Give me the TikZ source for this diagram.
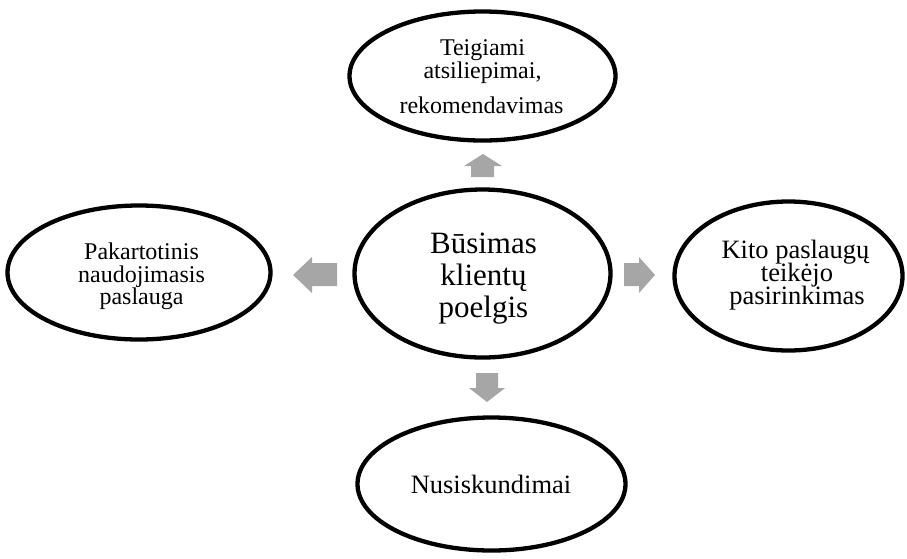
\documentclass[tikz,border=0pt]{standalone}
\usepackage{fontspec}
\setmainfont{Liberation Serif}
\usetikzlibrary{shapes.geometric}
\definecolor{arrowgray}{RGB}{166,166,166}
\begin{document}
\begin{tikzpicture}[x=1pt,y=-1pt,
  bubble/.style={draw=black, line width=4.3pt, ellipse, inner sep=0pt},
  lbl/.style={anchor=base, inner sep=0pt},
  fsmall/.style={font=\fontsize{24}{26}\selectfont},
  fmid/.style={font=\fontsize{26.5}{28}\selectfont},
  fbig/.style={font=\fontsize{31}{33}\selectfont},
  blockarrow/.style={fill=arrowgray, draw=none}]
\useasboundingbox (0,0) rectangle (907,558);

% ellipses
\node[bubble, minimum width=266pt, minimum height=129pt] (top) at (482.5,76) {};
\node[bubble, minimum width=256pt, minimum height=168pt] (ctr) at (482.5,273.5) {};
\node[bubble, minimum width=263pt, minimum height=134pt] (lft) at (139,272.5) {};
\node[bubble, minimum width=228pt, minimum height=149pt] (rgt) at (788.5,276) {};
\node[bubble, minimum width=268pt, minimum height=133pt] (bot) at (491.5,484) {};

% texts
\node[lbl, fsmall] (t1) at (482.5,55) {Teigiami};
\node[lbl, fsmall] (t2) at (482.5,78) {atsiliepimai,};
\node[lbl, fsmall] (t3) at (481.5,113) {rekomendavimas};

\node[lbl, fbig] (c1) at (483.5,253) {Būsimas};
\node[lbl, fbig] (c2) at (483.5,285) {klientų};
\node[lbl, fbig] (c3) at (483.5,317) {poelgis};

\node[lbl, fsmall] (l1) at (141.5,259) {Pakartotinis};
\node[lbl, fsmall] (l2) at (141.5,282) {naudojimasis};
\node[lbl, fsmall] (l3) at (141.5,304.5) {paslauga};

\node[lbl, fmid] (r1) at (795.5,258.5) {Kito paslaugų};
\node[lbl, fmid] (r2) at (797,281.7) {teikėjo};
\node[lbl, fmid] (r3) at (797,304.5) {pasirinkimas};

\node[lbl, fmid] (b1) at (491,493) {Nusiskundimai};

% block arrows
\fill[blockarrow] (483,154) -- (502,166) -- (494,166) -- (494,177) -- (471,177) -- (471,166) -- (464,166) -- cycle;
\fill[blockarrow] (476,373) -- (498,373) -- (498,388) -- (505,388) -- (487,402) -- (469,388) -- (476,388) -- cycle;
\fill[blockarrow] (293,275) -- (312,257) -- (312,263) -- (337,263) -- (337,286) -- (312,286) -- (312,293) -- cycle;
\fill[blockarrow] (624,263) -- (639,263) -- (639,257) -- (655,275) -- (639,293) -- (639,286) -- (624,286) -- cycle;
\end{tikzpicture}
\end{document}
